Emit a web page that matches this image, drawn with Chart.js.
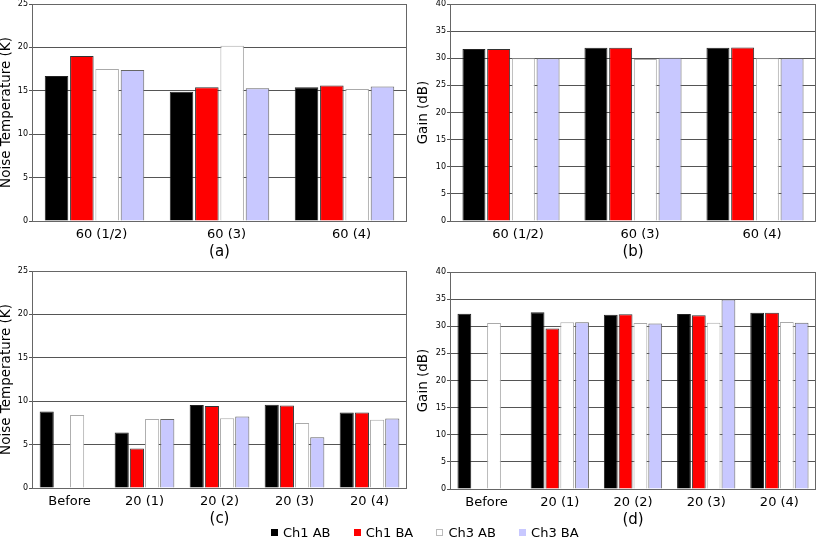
<!DOCTYPE html>
<html>
<head>
<meta charset="utf-8">
<script src="https://cdn.jsdelivr.net/npm/chart.js@4"></script>
<style>
  body { margin: 0; width: 817px; height: 539px; position: relative; overflow: hidden; background: #fff; font-family: "DejaVu Sans", sans-serif; }
  canvas { position: absolute; }
  #legend { position: absolute; left: 0; top: 524px; width: 817px; height: 18px; z-index: 2; }
  .item { position: absolute; top: 0; font-size: 13px; line-height: 18px; color: #000; white-space: nowrap; }
  .box { display: inline-block; width: 7px; height: 7px; margin-right: 5px; box-sizing: border-box; vertical-align: 1px; }
</style>
</head>
<body>
<canvas id="chartA" width="408" height="268" style="left:0px; top:-6px"></canvas>
<canvas id="chartB" width="400" height="268" style="left:417px; top:-6px"></canvas>
<canvas id="chartC" width="408" height="268" style="left:0px; top:261px"></canvas>
<canvas id="chartD" width="400" height="268" style="left:417px; top:262px"></canvas>
<div id="legend"></div>
<script>
// Categories
const topCategories = ["60 (1/2)", "60 (3)", "60 (4)"];
const bottomCategories = ["Before", "20 (1)", "20 (2)", "20 (3)", "20 (4)"];
const seriesNames = ["Ch1 AB", "Ch1 BA", "Ch3 AB", "Ch3 BA"];

// (a) noise temperature, 60 series
const aCh1AB = [16.7, 14.9, 15.4];
const aCh1BA = [19.0, 15.4, 15.6];
const aCh3AB = [17.5, 20.2, 15.2];
const aCh3BA = [17.4, 15.3, 15.5];

// (b) gain, 60 series
const bCh1AB = [31.7, 31.95, 31.95];
const bCh1BA = [31.7, 31.95, 32.0];
const bCh3AB = [30.0, 29.85, 30.0];
const bCh3BA = [30.0, 30.1, 30.0];

// (c) noise temperature, 20 series (null = no measurement)
const cCh1AB = [8.8, 6.4, 9.55, 9.6, 8.7];
const cCh1BA = [null, 4.55, 9.45, 9.5, 8.7];
const cCh3AB = [8.4, 7.95, 8.05, 7.5, 7.85];
const cCh3BA = [null, 7.95, 8.25, 5.85, 8.0];

// (d) gain, 20 series
const dCh1AB = [32.3, 32.6, 32.1, 32.25, 32.5];
const dCh1BA = [null, 29.6, 32.2, 32.05, 32.5];
const dCh3AB = [30.6, 30.75, 30.6, 30.65, 30.8];
const dCh3BA = [null, 30.75, 30.5, 34.95, 30.65];

const fillColors = ["#000000", "#ff0000", "#ffffff", "#c8c8ff"];
const edgeColors = ["#222222", "#333333", "#aaaaaa", "#666666"];

const FONT = "'DejaVu Sans', sans-serif";

// draw the box around the plot area
const framePlugin = {
    id: "frame",
    afterDatasetsDraw(chart) {
        const a = chart.chartArea;
        const ctx = chart.ctx;
        ctx.save();
        ctx.strokeStyle = "#666";
        ctx.lineWidth = 1;
        ctx.strokeRect(Math.round(a.left) + 0.5, Math.round(a.top) + 0.5,
            Math.round(a.right - a.left) - 1, Math.round(a.bottom - a.top));
        ctx.restore();
    }
};

function makeChart(id, labels, series, yMax, yTitle, panel, labelOffset, yWidth) {
    const datasets = series.map((vals, i) => ({
        label: seriesNames[i],
        data: vals,
        backgroundColor: fillColors[i],
        borderColor: edgeColors[i],
        borderWidth: 1,
        borderSkipped: "bottom",
        barPercentage: 0.93,
        categoryPercentage: 0.81,
    }));

    new Chart(document.getElementById(id), {
        type: "bar",
        data: { labels: labels, datasets: datasets },
        options: {
            responsive: false,
            animation: false,
            devicePixelRatio: 1,
            layout: { padding: { top: 10, right: 1, left: 0, bottom: 0 } },
            plugins: { legend: { display: false }, tooltip: { enabled: false } },
            scales: {
                x: {
                    grid: { display: false },
                    border: { display: false },
                    ticks: { color: "#000", font: { family: FONT, size: 13 }, padding: -2, labelOffset: labelOffset, maxRotation: 0 },
                    title: { display: true, text: panel, color: "#000", font: { family: FONT, size: 15 }, padding: { top: 0, bottom: 1 } },
                    afterFit(scale) { scale.height = 41; },
                },
                y: {
                    min: 0,
                    max: yMax,
                    ticks: { stepSize: 5, color: "#000", font: { family: FONT, size: 8 }, padding: 1 },
                    grid: { color: "#555", tickLength: 3 },
                    border: { display: false },
                    title: { display: true, text: yTitle, color: "#000", font: { family: FONT, size: 13.5, lineHeight: 1 }, padding: 0 },
                    afterFit(scale) { scale.width = yWidth; },
                },
            },
        },
        plugins: [framePlugin],
    });
}

makeChart("chartA", topCategories, [aCh1AB, aCh1BA, aCh3AB, aCh3BA], 25, "Noise Temperature (K)", "(a)", 7, 32);
makeChart("chartB", topCategories, [bCh1AB, bCh1BA, bCh3AB, bCh3BA], 40, "Gain (dB)", "(b)", 7, 33);
makeChart("chartC", bottomCategories, [cCh1AB, cCh1BA, cCh3AB, cCh3BA], 25, "Noise Temperature (K)", "(c)", 0, 32);
makeChart("chartD", bottomCategories, [dCh1AB, dCh1BA, dCh3AB, dCh3BA], 40, "Gain (dB)", "(d)", 0, 33);

// shared legend under the panels
const legend = document.getElementById("legend");
seriesNames.forEach((name, i) => {
    const item = document.createElement("div");
    item.className = "item";
    item.style.left = (271 + i * 82.7) + "px";
    const box = document.createElement("span");
    box.className = "box";
    box.style.background = fillColors[i];
    if (i === 2) box.style.border = "1px solid #bbb";
    item.appendChild(box);
    item.appendChild(document.createTextNode(name));
    legend.appendChild(item);
});
</script>
</body>
</html>
